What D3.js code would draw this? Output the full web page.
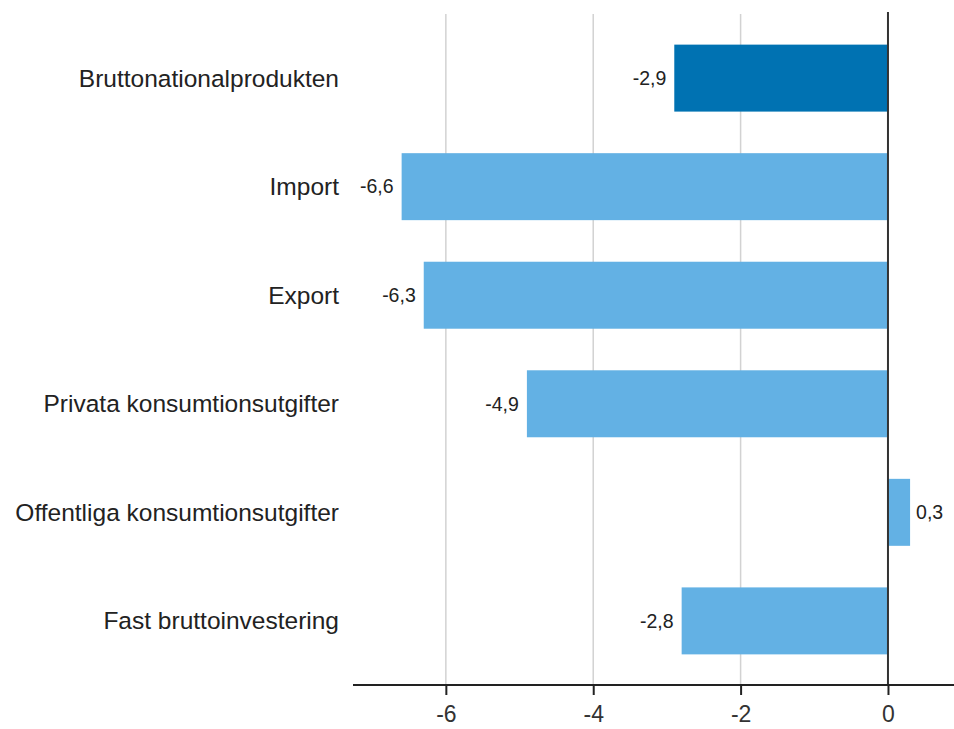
<!DOCTYPE html>
<html>
<head>
<meta charset="utf-8">
<script src="https://cdn.jsdelivr.net/npm/d3@7"></script>
<style>
  body { margin: 0; background: #fff; }
  svg { display: block; font-family: "Liberation Sans", Arial, sans-serif; }
</style>
</head>
<body>
<div id="app"></div>
<script>
const width = 954;
const height = 729;

const categories = [
  "Bruttonationalprodukten",
  "Import",
  "Export",
  "Privata konsumtionsutgifter",
  "Offentliga konsumtionsutgifter",
  "Fast bruttoinvestering"
];
const values = [-2.9, -6.6, -6.3, -4.9, 0.3, -2.8];
const tickValues = [-6, -4, -2, 0];

const darkBlue = "#0072b2";
const lightBlue = "#63b1e4";

document.getElementById("app").innerHTML = `
  <svg width="${width}" height="${height}"></svg>
`;

const svg = d3.select("svg");
const axisY = 685;

const x = d3.scaleLinear().domain([-7.26, 0.896]).range([353, 954]);
const y = d3
  .scaleBand()
  .domain(categories)
  .range([24, 675])
  .paddingInner(0.383)
  .paddingOuter(0.19);

const fmt = v => d3.format(".1f")(v).replace(".", ",").replace("−", "-");

// grid lines
svg
  .append("g")
  .selectAll("line")
  .data(tickValues.filter(d => d !== 0))
  .enter()
  .append("line")
  .attr("x1", d => x(d))
  .attr("x2", d => x(d))
  .attr("y1", 14)
  .attr("y2", axisY)
  .style("stroke", "#d2d2d2")
  .style("stroke-width", 1.5);

// bars
svg
  .append("g")
  .selectAll("rect")
  .data(values)
  .enter()
  .append("rect")
  .attr("x", d => x(Math.min(0, d)))
  .attr("y", (_, i) => y(categories[i]))
  .attr("width", d => Math.abs(x(d) - x(0)))
  .attr("height", y.bandwidth())
  .style("fill", (_, i) => (i === 0 ? darkBlue : lightBlue));

// zero line
svg
  .append("line")
  .attr("x1", x(0))
  .attr("x2", x(0))
  .attr("y1", 12)
  .attr("y2", axisY)
  .style("stroke", "#333")
  .style("stroke-width", 2);

// value labels
svg
  .append("g")
  .selectAll("text")
  .data(values)
  .enter()
  .append("text")
  .attr("x", d => (d < 0 ? x(d) - 8 : x(d) + 6))
  .attr("y", (_, i) => y(categories[i]) + y.bandwidth() / 2)
  .attr("dy", "0.35em")
  .attr("text-anchor", d => (d < 0 ? "end" : "start"))
  .style("font-size", "19.5px")
  .style("fill", "#222")
  .text(fmt);

// category labels
svg
  .append("g")
  .selectAll("text")
  .data(categories)
  .enter()
  .append("text")
  .attr("x", 339)
  .attr("y", d => y(d) + y.bandwidth() / 2)
  .attr("dy", "0.35em")
  .attr("text-anchor", "end")
  .style("font-size", "24.5px")
  .style("fill", "#222")
  .text(d => d);

// x axis
const xAxis = svg
  .append("g")
  .attr("transform", `translate(0,${axisY})`)
  .call(
    d3
      .axisBottom(x)
      .tickValues(tickValues)
      .tickSize(10)
      .tickPadding(11)
      .tickFormat(d => String(d))
  );

xAxis.select(".domain").attr("d", `M${x.range()[0]},0H${x.range()[1]}`).style("stroke", "#222").style("stroke-width", 2);
xAxis.selectAll(".tick line").style("stroke", "#222").style("stroke-width", 2);
xAxis
  .selectAll(".tick text")
  .style("font-family", "'Liberation Sans', Arial, sans-serif")
  .style("font-size", "23px")
  .style("fill", "#333");
</script>
</body>
</html>
